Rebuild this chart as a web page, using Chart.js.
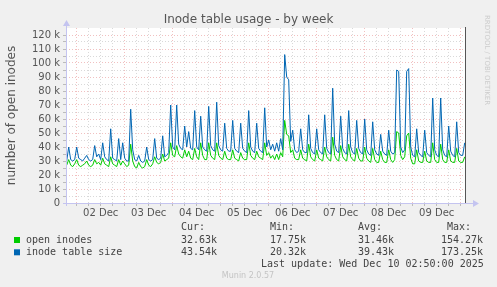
<!DOCTYPE html>
<html lang="en">
<head>
    <meta charset="UTF-8">
    <title>Inode table usage - by week</title>
    <script src="https://cdn.jsdelivr.net/npm/chart.js"></script>
    <style>
        body { margin: 0; background: #f0f0f0; }
    </style>
</head>
<body>
    <canvas id="inodeChart" width="497" height="287"></canvas>

    <script>
        // hours counted from 02 Dec 00:00, one sample per hour
        const firstHour = -5;
        const dayLabels = ['02 Dec', '03 Dec', '04 Dec', '05 Dec', '06 Dec', '07 Dec', '08 Dec', '09 Dec'];
        const gridHours = [0, 6, 12, 18, 24, 30, 36, 42, 48, 54, 60, 66, 72, 78, 84, 90, 96, 102,
                           108, 114, 120, 126, 132, 138, 144, 150, 156, 162, 168, 174, 180, 186, 192];

        // values in thousands
        const inodeTableSize = [
            30, 40, 31, 30, 31, 40, 32, 31, 30, 32, 34, 31, 30, 31, 41, 33, 35, 31, 43, 33,
            31, 30, 53, 32, 31, 30, 46, 31, 43, 32, 30, 30, 67, 38, 31, 30, 34, 30, 29, 30,
            40, 31, 30, 31, 46, 32, 31, 32, 48, 33, 34, 36, 70, 40, 38, 70, 42, 39, 38, 55,
            40, 51, 39, 38, 66, 40, 38, 62, 40, 38, 37, 69, 41, 38, 37, 72, 41, 38, 37, 57,
            39, 37, 37, 59, 39, 37, 36, 57, 39, 37, 36, 66, 40, 37, 36, 57, 39, 37, 36, 68,
            40, 45, 38, 42, 37, 43, 37, 46, 38, 106, 90, 88, 44, 52, 38, 36, 37, 53, 38, 36,
            36, 63, 39, 36, 35, 53, 38, 36, 35, 63, 39, 36, 35, 82, 42, 37, 36, 62, 39, 36,
            35, 66, 40, 36, 35, 59, 39, 36, 35, 60, 38, 35, 34, 58, 38, 35, 34, 49, 37, 35,
            34, 52, 37, 35, 36, 95, 94, 40, 36, 38, 94, 96, 40, 34, 33, 53, 36, 34, 33, 52,
            36, 34, 33, 75, 38, 34, 33, 75, 38, 34, 33, 55, 37, 34, 33, 58, 36, 34, 34, 43
        ];
        const openInodes = [
            27, 31, 27, 26, 28, 31, 27, 26, 27, 28, 30, 27, 26, 27, 31, 28, 29, 27, 32, 28,
            27, 26, 33, 28, 27, 26, 31, 27, 30, 28, 26, 27, 42, 30, 26, 25, 29, 26, 25, 26,
            31, 27, 26, 28, 33, 29, 28, 29, 35, 30, 31, 32, 43, 34, 33, 41, 35, 33, 32, 38,
            33, 37, 32, 31, 39, 33, 31, 43, 34, 31, 31, 43, 34, 32, 31, 43, 34, 32, 31, 37,
            32, 31, 31, 38, 32, 31, 30, 36, 32, 31, 31, 43, 34, 32, 31, 37, 33, 32, 31, 43,
            34, 36, 32, 34, 31, 35, 31, 36, 33, 59, 49, 48, 36, 38, 32, 31, 31, 38, 32, 31,
            30, 42, 33, 31, 30, 38, 32, 31, 30, 40, 33, 31, 30, 47, 34, 31, 30, 41, 33, 31,
            30, 42, 33, 31, 30, 39, 32, 30, 30, 40, 32, 30, 29, 39, 31, 29, 29, 37, 31, 29,
            29, 38, 31, 29, 31, 51, 50, 34, 31, 33, 48, 50, 32, 28, 28, 38, 30, 29, 29, 37,
            30, 29, 29, 43, 31, 29, 29, 42, 31, 29, 29, 38, 30, 29, 29, 39, 30, 29, 29, 33
        ];

        const legendRows = [
            { name: 'open inodes', color: '#00cc00', cur: '32.63k', min: '17.75k', avg: '31.46k', max: '154.27k' },
            { name: 'inode table size', color: '#0066b3', cur: '43.54k', min: '20.32k', avg: '39.43k', max: '173.25k' }
        ];

        const toPoints = (arr) => arr.map((v, i) => ({ x: firstHour + i, y: v }));

        const majorGrid = 'rgba(230, 140, 140, 0.55)';
        const minorGrid = 'rgba(170, 170, 170, 0.45)';
        const axisColor = '#c4c4f0';

        // background, title, axis arrows and the rrdtool style legend
        const muninLook = {
            id: 'muninLook',
            beforeDraw(chart) {
                const { ctx, chartArea: a } = chart;
                ctx.save();
                ctx.fillStyle = '#f0f0f0';
                ctx.fillRect(0, 0, chart.width, chart.height);
                ctx.fillStyle = '#ffffff';
                ctx.fillRect(a.left, a.top, a.right - a.left, a.bottom - a.top);
                ctx.restore();
            },
            afterDraw(chart) {
                const { ctx, chartArea: a } = chart;
                ctx.save();

                // axes with arrows
                ctx.strokeStyle = axisColor;
                ctx.fillStyle = axisColor;
                ctx.lineWidth = 1;
                ctx.beginPath();
                ctx.moveTo(a.left + 0.5, a.bottom + 3);
                ctx.lineTo(a.left + 0.5, a.top - 3);
                ctx.moveTo(a.left - 3, a.bottom + 0.5);
                ctx.lineTo(a.right + 8, a.bottom + 0.5);
                ctx.stroke();
                ctx.beginPath();
                ctx.moveTo(a.left + 0.5, a.top - 8);
                ctx.lineTo(a.left - 3, a.top - 2);
                ctx.lineTo(a.left + 4, a.top - 2);
                ctx.fill();
                ctx.beginPath();
                ctx.moveTo(a.right + 13, a.bottom + 0.5);
                ctx.lineTo(a.right + 7, a.bottom - 3);
                ctx.lineTo(a.right + 7, a.bottom + 4);
                ctx.fill();

                // "now" line
                ctx.strokeStyle = '#555555';
                ctx.beginPath();
                ctx.moveTo(a.right - 0.5, a.top - 1);
                ctx.lineTo(a.right - 0.5, a.bottom);
                ctx.stroke();

                // title
                ctx.fillStyle = '#555555';
                ctx.font = '12px "DejaVu Sans"';
                ctx.textAlign = 'center';
                ctx.textBaseline = 'middle';
                ctx.fillText('Inode table usage - by week', 248.5, 20);

                // legend table
                ctx.font = '10px "DejaVu Sans Mono"';
                ctx.textAlign = 'left';
                ctx.fillStyle = '#444444';
                ctx.fillText('Cur:', 181, 227.5);
                ctx.fillText('Min:', 270, 227.5);
                ctx.fillText('Avg:', 358, 227.5);
                ctx.fillText('Max:', 447, 227.5);
                legendRows.forEach((row, i) => {
                    const y = 240 + i * 12.3;
                    ctx.fillStyle = row.color;
                    ctx.fillRect(14, y - 3, 6, 6);
                    ctx.fillStyle = '#444444';
                    ctx.fillText(row.name, 26, y);
                    ctx.fillText(row.cur, 181, y);
                    ctx.fillText(row.min, 270, y);
                    ctx.fillText(row.avg, 358, y);
                    ctx.fillText(row.max, 441, y);
                });
                ctx.fillText('Last update: Wed Dec 10 02:50:00 2025', 261, 264);

                ctx.fillStyle = '#c4c4c4';
                ctx.font = '8px "DejaVu Sans"';
                ctx.textAlign = 'center';
                ctx.fillText('Munin 2.0.57', 248, 276);

                // vertical rrdtool credit
                ctx.translate(487, 15);
                ctx.rotate(Math.PI / 2);
                ctx.textAlign = 'left';
                ctx.fillStyle = '#cccccc';
                ctx.font = '7px "DejaVu Sans"';
                ctx.fillText('RRDTOOL / TOBI OETIKER', 0, 0);
                ctx.restore();
            }
        };

        const ctx = document.getElementById('inodeChart').getContext('2d');
        const inodeChart = new Chart(ctx, {
            type: 'line',
            data: {
                datasets: [{
                    label: 'inode table size',
                    data: toPoints(inodeTableSize),
                    borderColor: '#0066b3',
                    borderWidth: 1,
                    pointRadius: 0,
                    fill: false
                }, {
                    label: 'open inodes',
                    data: toPoints(openInodes),
                    borderColor: '#00cc00',
                    borderWidth: 1,
                    pointRadius: 0,
                    fill: false
                }]
            },
            options: {
                responsive: false,
                animation: false,
                layout: {
                    padding: { left: 0, top: 28, right: 31, bottom: 64 }
                },
                scales: {
                    x: {
                        type: 'linear',
                        min: -5.35,
                        max: 194.65,
                        afterBuildTicks: (scale) => {
                            scale.ticks = gridHours.map(h => ({ value: h }));
                        },
                        afterFit: (scale) => { scale.height = 20; },
                        ticks: {
                            autoSkip: false,
                            maxRotation: 0,
                            padding: 1,
                            color: '#555555',
                            font: { family: 'DejaVu Sans', size: 10 },
                            callback: (v) => (v % 24 === 12 ? dayLabels[(v - 12) / 24] : '')
                        },
                        grid: {
                            color: (c) => (c.tick && c.tick.value % 24 === 0 ? majorGrid : minorGrid),
                            tickLength: 3,
                            tickColor: '#bbbbbb'
                        },
                        border: { display: false, dash: [1, 2] }
                    },
                    y: {
                        min: 0,
                        max: 125,
                        afterFit: (scale) => { scale.width = 66; },
                        title: {
                            display: true,
                            text: 'number of open inodes',
                            color: '#555555',
                            font: { family: 'DejaVu Sans', size: 12 },
                            padding: { top: 5, bottom: 0 }
                        },
                        ticks: {
                            stepSize: 5,
                            autoSkip: false,
                            padding: 3,
                            color: '#555555',
                            font: { family: 'DejaVu Sans', size: 10 },
                            callback: (v) => {
                                if (v >= 125) return null;
                                if (v % 10 !== 0) return '';
                                return v === 0 ? '0' : v + ' k';
                            }
                        },
                        grid: {
                            color: (c) => (c.tick && c.tick.value % 10 === 0 ? majorGrid : minorGrid),
                            tickLength: 3,
                            tickColor: '#bbbbbb'
                        },
                        border: { display: false, dash: [1, 2] }
                    }
                },
                plugins: {
                    legend: { display: false },
                    tooltip: { enabled: false }
                }
            },
            plugins: [muninLook]
        });
    </script>
</body>
</html>
